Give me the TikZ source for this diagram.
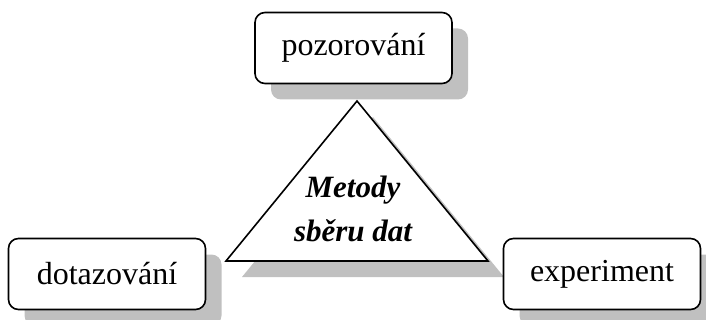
\documentclass[tikz,border=0pt]{standalone}
\usepackage{fontspec}
\setmainfont{Liberation Serif}
\usetikzlibrary{shadows}
\definecolor{shadowgray}{HTML}{C0C0C0}
\tikzset{
  x=1pt, y=-1pt,
  methodbox/.style={draw=black, line width=1.6pt, rounded corners=10pt, fill=white,
    minimum width=197pt, minimum height=71pt, inner sep=0pt,
    font=\fontsize{32}{38}\selectfont,
    drop shadow={shadow xshift=16pt, shadow yshift=-16pt, fill=shadowgray, opacity=1}},
  centertext/.style={font=\fontsize{31}{38}\selectfont\bfseries\itshape, anchor=base, inner sep=0pt}
}
\begin{document}
\begin{tikzpicture}
\useasboundingbox (0,0) rectangle (706,320);
% triangle with shadow
\fill[shadowgray] (373,117) -- (504,277) -- (242,277) -- cycle;
\draw[line width=1.6pt, fill=white, line join=miter] (357,101) coordinate (apex) -- (488,261) coordinate (br) -- (226,261) coordinate (bl) -- cycle;
\node[centertext] (t1) at (353,198) {Metody};
\node[centertext] (t2) at (353,242) {sběru dat};
% boxes
\node[methodbox] (poz) at (353.5,48) {pozorování};
\node[methodbox] (dot) at (107,274) {dotazování};
\node[methodbox] (exp) at (602,274) {experiment};
\end{tikzpicture}
\end{document}
